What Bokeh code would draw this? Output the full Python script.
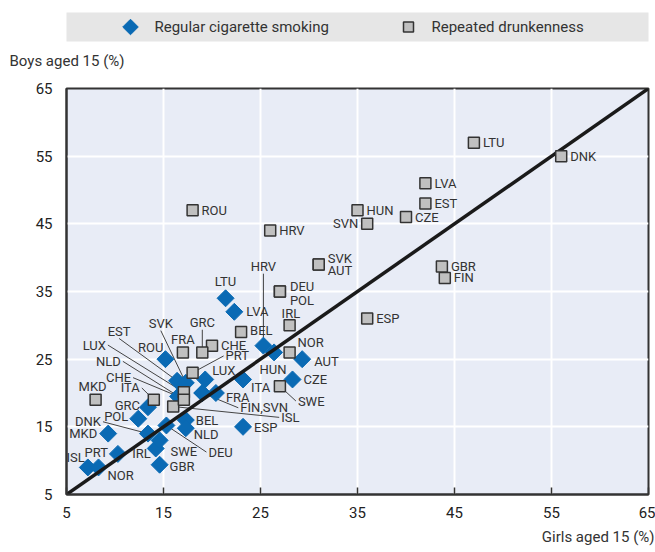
from math import pi
from bokeh.plotting import figure
from bokeh.models import Range1d, FixedTicker, ColumnDataSource, Title
from bokeh.layouts import column
from bokeh.core.properties import value
from bokeh.embed import file_html
from bokeh.resources import INLINE

# ---------------- data ----------------
axis_ticks = [5, 15, 25, 35, 45, 55, 65]
diag = [5, 65]

smoke_countries = ["AUT", "BEL", "CHE", "CZE", "DEU", "DNK", "ESP", "EST", "FIN", "FRA",
                   "GBR", "GRC", "HRV", "HUN", "IRL", "ISL", "ITA", "LTU", "LUX", "LVA",
                   "MKD", "NLD", "NOR", "POL", "PRT", "ROU", "SVK", "SVN", "SWE"]
smoke_girls = [29.3, 17.3, 16.5, 28.3, 15.3, 13.4, 23.2, 16.4, 19.0, 20.4,
               14.6, 13.4, 25.3, 26.4, 14.2, 7.2, 23.2, 21.4, 19.3, 22.3,
               9.3, 17.3, 8.3, 12.4, 10.3, 15.2, 17.3, 19.0, 14.6]
smoke_boys = [25.0, 16.0, 19.5, 22.0, 15.2, 14.0, 15.0, 21.8, 20.0, 20.0,
              9.4, 17.9, 27.0, 26.0, 11.8, 9.0, 22.0, 34.0, 22.0, 32.0,
              14.0, 14.8, 9.0, 16.2, 11.0, 25.0, 21.5, 20.0, 13.0]

drunk_countries = ["AUT", "BEL", "CHE", "CZE", "DEU", "DNK", "ESP", "EST", "FIN", "FRA",
                   "GBR", "GRC", "HRV", "HUN", "IRL", "ISL", "ITA", "LTU", "LUX", "LVA",
                   "MKD", "NLD", "NOR", "POL", "PRT", "ROU", "SVK", "SVN", "SWE"]
drunk_girls = [31.0, 23.0, 20.0, 40.0, 27.0, 56.0, 36.0, 42.0, 44.0, 17.0,
               43.7, 19.0, 26.0, 35.0, 28.0, 16.0, 14.0, 47.0, 17.1, 42.0,
               8.0, 17.1, 28.0, 27.0, 18.0, 18.0, 31.0, 36.0, 27.0]
drunk_boys = [39.0, 29.0, 27.0, 46.0, 35.0, 55.0, 31.0, 48.0, 37.0, 26.0,
              38.7, 26.0, 44.0, 47.0, 30.0, 18.0, 19.0, 57.0, 20.1, 51.0,
              19.0, 19.0, 26.0, 35.0, 23.0, 47.0, 39.0, 45.0, 21.0]

series_names = ["Regular cigarette smoking", "Repeated drunkenness"]
x_title = "Girls aged 15 (%)"
y_title = "Boys aged 15 (%)"

# ---------------- label layout (screen-pixel offsets) ----------------
# (text, series, country, dx, dy, align, leader)
label_layout = [
    ("LTU", "d", "LTU", 9, 0, "left", False),
    ("DNK", "d", "DNK", 9, 0, "left", False),
    ("LVA", "d", "LVA", 9, 0, "left", False),
    ("EST", "d", "EST", 9, 0, "left", False),
    ("HUN", "d", "HUN", 9, 0, "left", False),
    ("SVN", "d", "SVN", -9, 0, "right", False),
    ("CZE", "d", "CZE", 9, 0, "left", False),
    ("GBR", "d", "GBR", 9, 0, "left", False),
    ("FIN", "d", "FIN", 9, 0, "left", False),
    ("ESP", "d", "ESP", 9, 0, "left", False),
    ("ROU", "d", "ROU", 9, 0, "left", False),
    ("HRV", "d", "HRV", 9, 0, "left", False),
    ("SVK", "d", "SVK", 9, -6, "left", False),
    ("AUT", "d", "AUT", 9, 6, "left", False),
    ("DEU", "d", "DEU", 10, -5, "left", False),
    ("POL", "d", "POL", 10, 9, "left", False),
    ("IRL", "d", "IRL", -8, -12, "left", False),
    ("BEL", "d", "BEL", 9, -2, "left", False),
    ("NOR", "d", "NOR", 8, -10, "left", False),
    ("CHE", "d", "CHE", 9, 0, "left", False),
    ("GRC", "d", "GRC", 0, -30, "center", True),
    ("FRA", "d", "FRA", 0, -13, "center", False),
    ("PRT", "d", "PRT", 33, -17, "left", True),
    ("SWE", "d", "SWE", 18, 15, "left", True),
    ("MKD", "d", "MKD", -3, -13, "center", False),
    ("ITA", "d", "ITA", -14, -12, "right", True),
    ("LUX", "d", "LUX", -78, -48, "right", True),
    ("NLD", "d", "NLD", -63, -39, "right", True),
    ("ISL", "d", "ISL", 108, 11, "left", True),
    ("LTU", "s", "LTU", 0, -17, "center", False),
    ("LVA", "s", "LVA", 12, 0, "left", False),
    ("HRV", "s", "HRV", 0, -80, "center", True),
    ("HUN", "s", "HUN", -1, 17, "center", False),
    ("AUT", "s", "AUT", 12, 2, "left", False),
    ("CZE", "s", "CZE", 11, 0, "left", False),
    ("ITA", "s", "ITA", 8, 8, "left", False),
    ("ESP", "s", "ESP", 11, 1, "left", False),
    ("LUX", "s", "LUX", 7, -9, "left", False),
    ("FRA", "s", "FRA", 10, 5, "left", False),
    ("FIN,SVN", "s", "FIN", 38, 15, "left", True),
    ("ISL", "s", "ISL", -3, -10, "right", False),
    ("NOR", "s", "NOR", 9, 8, "left", False),
    ("PRT", "s", "PRT", -10, -1, "right", False),
    ("MKD", "s", "MKD", -11, 0, "right", False),
    ("DNK", "s", "DNK", -47, -12, "right", True),
    ("POL", "s", "POL", -10, -2, "right", False),
    ("GRC", "s", "GRC", -8, -2, "right", False),
    ("IRL", "s", "IRL", -5, 5, "right", False),
    ("SWE", "s", "SWE", 11, 11, "left", False),
    ("GBR", "s", "GBR", 10, 2, "left", False),
    ("DEU", "s", "DEU", 42, 27, "left", True),
    ("NLD", "s", "NLD", 8, 6, "left", False),
    ("BEL", "s", "BEL", 10, 0, "left", False),
    ("ROU", "s", "ROU", -2, -12, "right", False),
    ("SVK", "s", "SVK", -25, -60, "center", True),
    ("EST", "s", "EST", -58, -50, "center", True),
    ("CHE", "s", "CHE", -47, -19, "right", True),
]

# ---------------- styles ----------------
FONT = "Roboto"
BLUE = "#0a6ab4"
SQ_FILL = "#c0c0c0"
DARK = "#333333"
BG = "#e8ecf6"

W = 655
BL, BR = 66, 7
HEAD_TOP, HEAD_BOX, HEAD_BOTTOM = 12, 31, 34
BT, FRAME_H, BB = 11, 412, 50
MAIN_H = BT + FRAME_H + BB
FRAME_W = W - BL - BR
kx = FRAME_W / (diag[1] - diag[0])
ky = FRAME_H / (diag[1] - diag[0])

# ---------------- header: legend strip (its frame is the grey box) + y title ----------------
head = figure(width=W, height=HEAD_TOP + HEAD_BOX + HEAD_BOTTOM, output_backend="svg",
              toolbar_location=None, title_location="below",
              x_range=Range1d(BL, W - BR), y_range=Range1d(HEAD_BOX, 0),
              x_axis_location=None, y_axis_location=None,
              min_border_left=BL, min_border_right=BR, min_border_top=HEAD_TOP,
              min_border_bottom=HEAD_BOTTOM, outline_line_color=None,
              border_fill_color="white", background_fill_color="#e6e6e6")
head.grid.visible = False
head.title.text = y_title
head.title.align = "left"
head.title.offset = -(BL - 9)
head.title.standoff = 16
head.title.text_font = FONT
head.title.text_font_size = "15px"
head.title.text_font_style = "normal"
head.title.text_color = DARK
head.scatter([130], [HEAD_BOX / 2], marker="square", angle=pi / 4, size=11,
             fill_color=BLUE, line_color=BLUE)
head.scatter([408], [HEAD_BOX / 2], marker="square", size=10, fill_color=SQ_FILL,
             line_color=DARK, line_width=1.5)
head.text(x=[154, 431], y=[HEAD_BOX / 2] * 2, text=series_names, text_font=value(FONT),
          text_font_size="15px", text_baseline="middle", text_align="left", text_color=DARK)

# ---------------- main plot ----------------
p = figure(width=W, height=MAIN_H, output_backend="svg", toolbar_location=None,
           x_range=Range1d(diag[0], diag[1]), y_range=Range1d(diag[0], diag[1]),
           min_border_left=BL, min_border_right=BR, min_border_top=BT, min_border_bottom=BB,
           background_fill_color=BG, border_fill_color="white")
p.outline_line_color = DARK
p.outline_line_width = 2

p.add_layout(Title(text=x_title, align="right", offset=-(BR - 1), text_font=FONT,
                   text_font_size="15px", text_font_style="normal", text_color=DARK), "below")

ticker = FixedTicker(ticks=axis_ticks)
for ax in (p.xaxis[0], p.yaxis[0]):
    ax.ticker = ticker
    ax.axis_line_color = DARK
    ax.axis_line_width = 2
    ax.major_label_text_font = FONT
    ax.major_label_text_font_size = "15px"
    ax.major_label_text_color = "#222222"
    ax.minor_tick_line_color = None
p.xaxis.major_tick_in = 7
p.xaxis.major_tick_out = 0
p.xaxis.major_tick_line_color = DARK
p.xaxis.major_tick_line_width = 1.5
p.xaxis.major_label_standoff = 12
p.yaxis.major_tick_in = 0
p.yaxis.major_tick_out = 0
p.yaxis.major_label_standoff = 14
p.xgrid.ticker = ticker
p.ygrid.ticker = ticker
p.grid.grid_line_color = "white"
p.grid.grid_line_width = 2

# leader lines and labels
lookup = {
    "s": dict(zip(smoke_countries, zip(smoke_girls, smoke_boys))),
    "d": dict(zip(drunk_countries, zip(drunk_girls, drunk_boys))),
}
groups = {"left": ([], [], []), "right": ([], [], []), "center": ([], [], [])}
sx0, sy0, sx1, sy1 = [], [], [], []
for text, series, ctry, dx, dy, align, leader in label_layout:
    x0, y0 = lookup[series][ctry]
    lx = x0 + dx / kx
    ly = y0 - dy / ky
    g = groups[align]
    g[0].append(lx); g[1].append(ly); g[2].append(text)
    if leader:
        if align == "right":
            ex, ey = lx + 2 / kx, ly
        elif align == "left":
            ex, ey = lx - 2 / kx, ly
        else:
            ex, ey = lx, (ly - 7 / ky) if dy < 0 else (ly + 7 / ky)
        sx0.append(ex); sy0.append(ey); sx1.append(x0); sy1.append(y0)

p.segment(x0=sx0, y0=sy0, x1=sx1, y1=sy1, line_color="#444444", line_width=1)

smoke_src = ColumnDataSource(dict(x=smoke_girls, y=smoke_boys, c=smoke_countries))
drunk_src = ColumnDataSource(dict(x=drunk_girls, y=drunk_boys, c=drunk_countries))

p.scatter("x", "y", source=smoke_src, marker="square", angle=pi / 4, size=12,
          fill_color=BLUE, line_color=BLUE)
p.line(diag, diag, line_color="#1a1a1a", line_width=3.5)
p.scatter("x", "y", source=drunk_src, marker="square", size=11,
          fill_color=SQ_FILL, line_color=DARK, line_width=1.5)

for align, (xs, ys, ts) in groups.items():
    p.text(x=xs, y=ys, text=ts, text_align=align, text_baseline="middle",
           text_font=value(FONT), text_font_size="13px", text_color=DARK)

layout = column(head, p, spacing=0)
open("out.html", "w").write(file_html(layout, INLINE))
